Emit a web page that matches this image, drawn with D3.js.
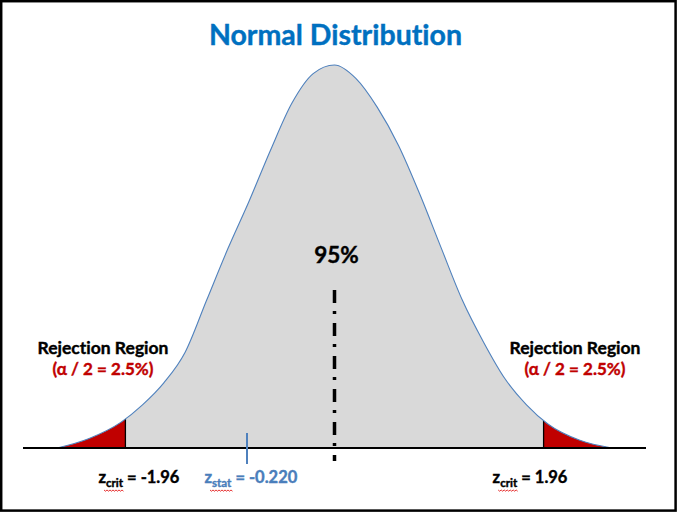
<!DOCTYPE html>
<html>
<head>
<meta charset="utf-8">
<script src="https://cdn.jsdelivr.net/npm/d3@7"></script>
<style>
  body { margin: 0; background: #fff; }
  svg { display: block; font-family: Lato, 'Open Sans', sans-serif; }
  text { paint-order: stroke; stroke-width: 0.4px; font-variant-ligatures: none; font-feature-settings: "liga" 0, "dlig" 0; }
</style>
</head>
<body>
<div id="chart"></div>
<script>
// curve: z position and height of the drawn bell
const zPoints = [-2.6, -2.3, -2.0, -1.8, -1.6, -1.4, -1.2, -1.0, -0.8, -0.6, -0.4, -0.2, 0,
  0.2, 0.4, 0.6, 0.8, 1.0, 1.2, 1.4, 1.6, 1.8, 2.0, 2.3, 2.6]
const density = [0, 0.010, 0.027, 0.045, 0.068, 0.100, 0.154, 0.208, 0.258, 0.311, 0.360, 0.391, 0.400,
  0.386, 0.356, 0.316, 0.265, 0.209, 0.154, 0.110, 0.072, 0.045, 0.025, 0.008, 0]

const zCrit = [-1.96, 1.96]
const zStat = -0.220
const zStatMark = -0.82 // where the picture puts the z-stat tick
const centerLabel = '95%'
const tailLabel = ['Rejection Region', '(α / 2 = 2.5%)']

const width = 677, height = 512

const x = d3.scaleLinear().domain([-2.92, 2.92]).range([23, 646])
const y = d3.scaleLinear().domain([0, 0.4]).range([448, 65])

const pts = zPoints.map((z, i) => ({ z, d: density[i] }))

const svg = d3.select('#chart')
  .append('svg')
  .attr('width', width)
  .attr('height', height)

svg.append('rect')
  .attr('x', 1.2).attr('y', 1.2)
  .attr('width', width - 2.6).attr('height', height - 2.6)
  .attr('fill', '#fff')
  .attr('stroke', '#000')
  .attr('stroke-width', 2.5)

const area = d3.area()
  .x(d => x(d.z))
  .y0(y(0))
  .y1(d => y(d.d))
  .curve(d3.curveMonotoneX)

const line = d3.line()
  .x(d => x(d.z))
  .y(d => y(d.d))
  .curve(d3.curveMonotoneX)

svg.append('clipPath')
  .attr('id', 'under')
  .append('path')
  .attr('d', area(pts))

const g = svg.append('g').attr('clip-path', 'url(#under)')

g.append('rect')
  .attr('x', x.range()[0]).attr('y', 0)
  .attr('width', x.range()[1] - x.range()[0]).attr('height', y(0))
  .attr('fill', '#d9d9d9')

// tails
g.append('rect')
  .attr('x', 0).attr('y', 0)
  .attr('width', x(zCrit[0])).attr('height', y(0))
  .attr('fill', '#c00000')
g.append('rect')
  .attr('x', x(zCrit[1])).attr('y', 0)
  .attr('width', width - x(zCrit[1])).attr('height', y(0))
  .attr('fill', '#c00000')

g.selectAll('line.crit')
  .data(zCrit)
  .enter()
  .append('line')
  .attr('class', 'crit')
  .attr('x1', d => x(d)).attr('x2', d => x(d))
  .attr('y1', 0).attr('y2', y(0))
  .attr('stroke', '#000')
  .attr('stroke-width', 1.3)

svg.append('path')
  .attr('d', line(pts))
  .attr('fill', 'none')
  .attr('stroke', '#4f81bd')
  .attr('stroke-width', 1.1)

// baseline
svg.append('line')
  .attr('x1', x.range()[0]).attr('x2', x.range()[1])
  .attr('y1', y(0)).attr('y2', y(0))
  .attr('stroke', '#000')
  .attr('stroke-width', 2)

// centre dash-dot line
svg.append('line')
  .attr('x1', x(0)).attr('x2', x(0))
  .attr('y1', y(0.165)).attr('y2', y(0) + 13)
  .attr('stroke', '#000')
  .attr('stroke-width', 3.5)
  .attr('stroke-dasharray', '13,8,3,9')

// z-stat tick
svg.append('line')
  .attr('x1', x(zStatMark)).attr('x2', x(zStatMark))
  .attr('y1', y(0) - 15).attr('y2', y(0) + 16)
  .attr('stroke', '#4f81bd')
  .attr('stroke-width', 2)

// title
svg.append('text')
  .attr('x', x(0) + 1).attr('y', 45)
  .attr('text-anchor', 'middle')
  .attr('font-size', 28.5)
  .attr('font-weight', 'bold')
  .attr('fill', '#0070c0')
  .attr('stroke', '#0070c0')
  .text('Normal Distribution')

svg.append('text')
  .attr('x', x(0) + 2).attr('y', 263)
  .attr('text-anchor', 'middle')
  .attr('font-size', 22.5)
  .attr('font-weight', 'bold')
  .attr('fill', '#000')
  .attr('stroke', '#000')
  .text(centerLabel)

// rejection region labels
const tails = [103, 575]
tails.forEach(cx => {
  svg.append('text')
    .attr('x', cx).attr('y', 354)
    .attr('text-anchor', 'middle')
    .attr('font-size', 17.5)
    .attr('font-weight', 'bold')
    .attr('fill', '#000')
    .attr('stroke', '#000')
    .text(tailLabel[0])
  svg.append('text')
    .attr('x', cx).attr('y', 375)
    .attr('text-anchor', 'middle')
    .attr('font-size', 17)
    .attr('font-weight', 'bold')
    .attr('fill', '#c00000')
    .attr('stroke', '#c00000')
    .text(tailLabel[1])
})

// z labels with subscripts
function zLabel(sx, sub, rest, color) {
  const t = svg.append('text')
    .attr('x', sx).attr('y', 483)
    .attr('font-size', 16.5)
    .attr('font-weight', 'bold')
    .attr('fill', color)
    .attr('stroke', color)
  t.append('tspan').text('z')
  t.append('tspan')
    .attr('font-size', 11.5)
    .attr('dy', 4)
    .text(sub)
  t.append('tspan').attr('dy', -4).text(' ' + rest)

  // red spell-check squiggle under the subscript
  const node = t.node()
  const start = node.getSubStringLength(0, 1)
  const len = node.getSubStringLength(1, sub.length)
  const x0 = sx + start - 2, yy = 490
  let d = `M${x0},${yy}`
  for (let i = 0; i * 1.5 < len + 2; i++) {
    d += `L${x0 + (i + 1) * 1.5},${yy + (i % 2 ? 0 : 1.2)}`
  }
  svg.append('path')
    .attr('d', d)
    .attr('fill', 'none')
    .attr('stroke', '#e00000')
    .attr('stroke-width', 0.8)
}

zLabel(x(zCrit[0]) - 27, 'crit', '= ' + zCrit[0].toFixed(2), '#000')
zLabel(x(zCrit[0]) + 79, 'stat', '= ' + zStat.toFixed(3), '#4a7ebb')
zLabel(x(zCrit[1]) - 51, 'crit', '= ' + zCrit[1].toFixed(2), '#000')
</script>
</body>
</html>
